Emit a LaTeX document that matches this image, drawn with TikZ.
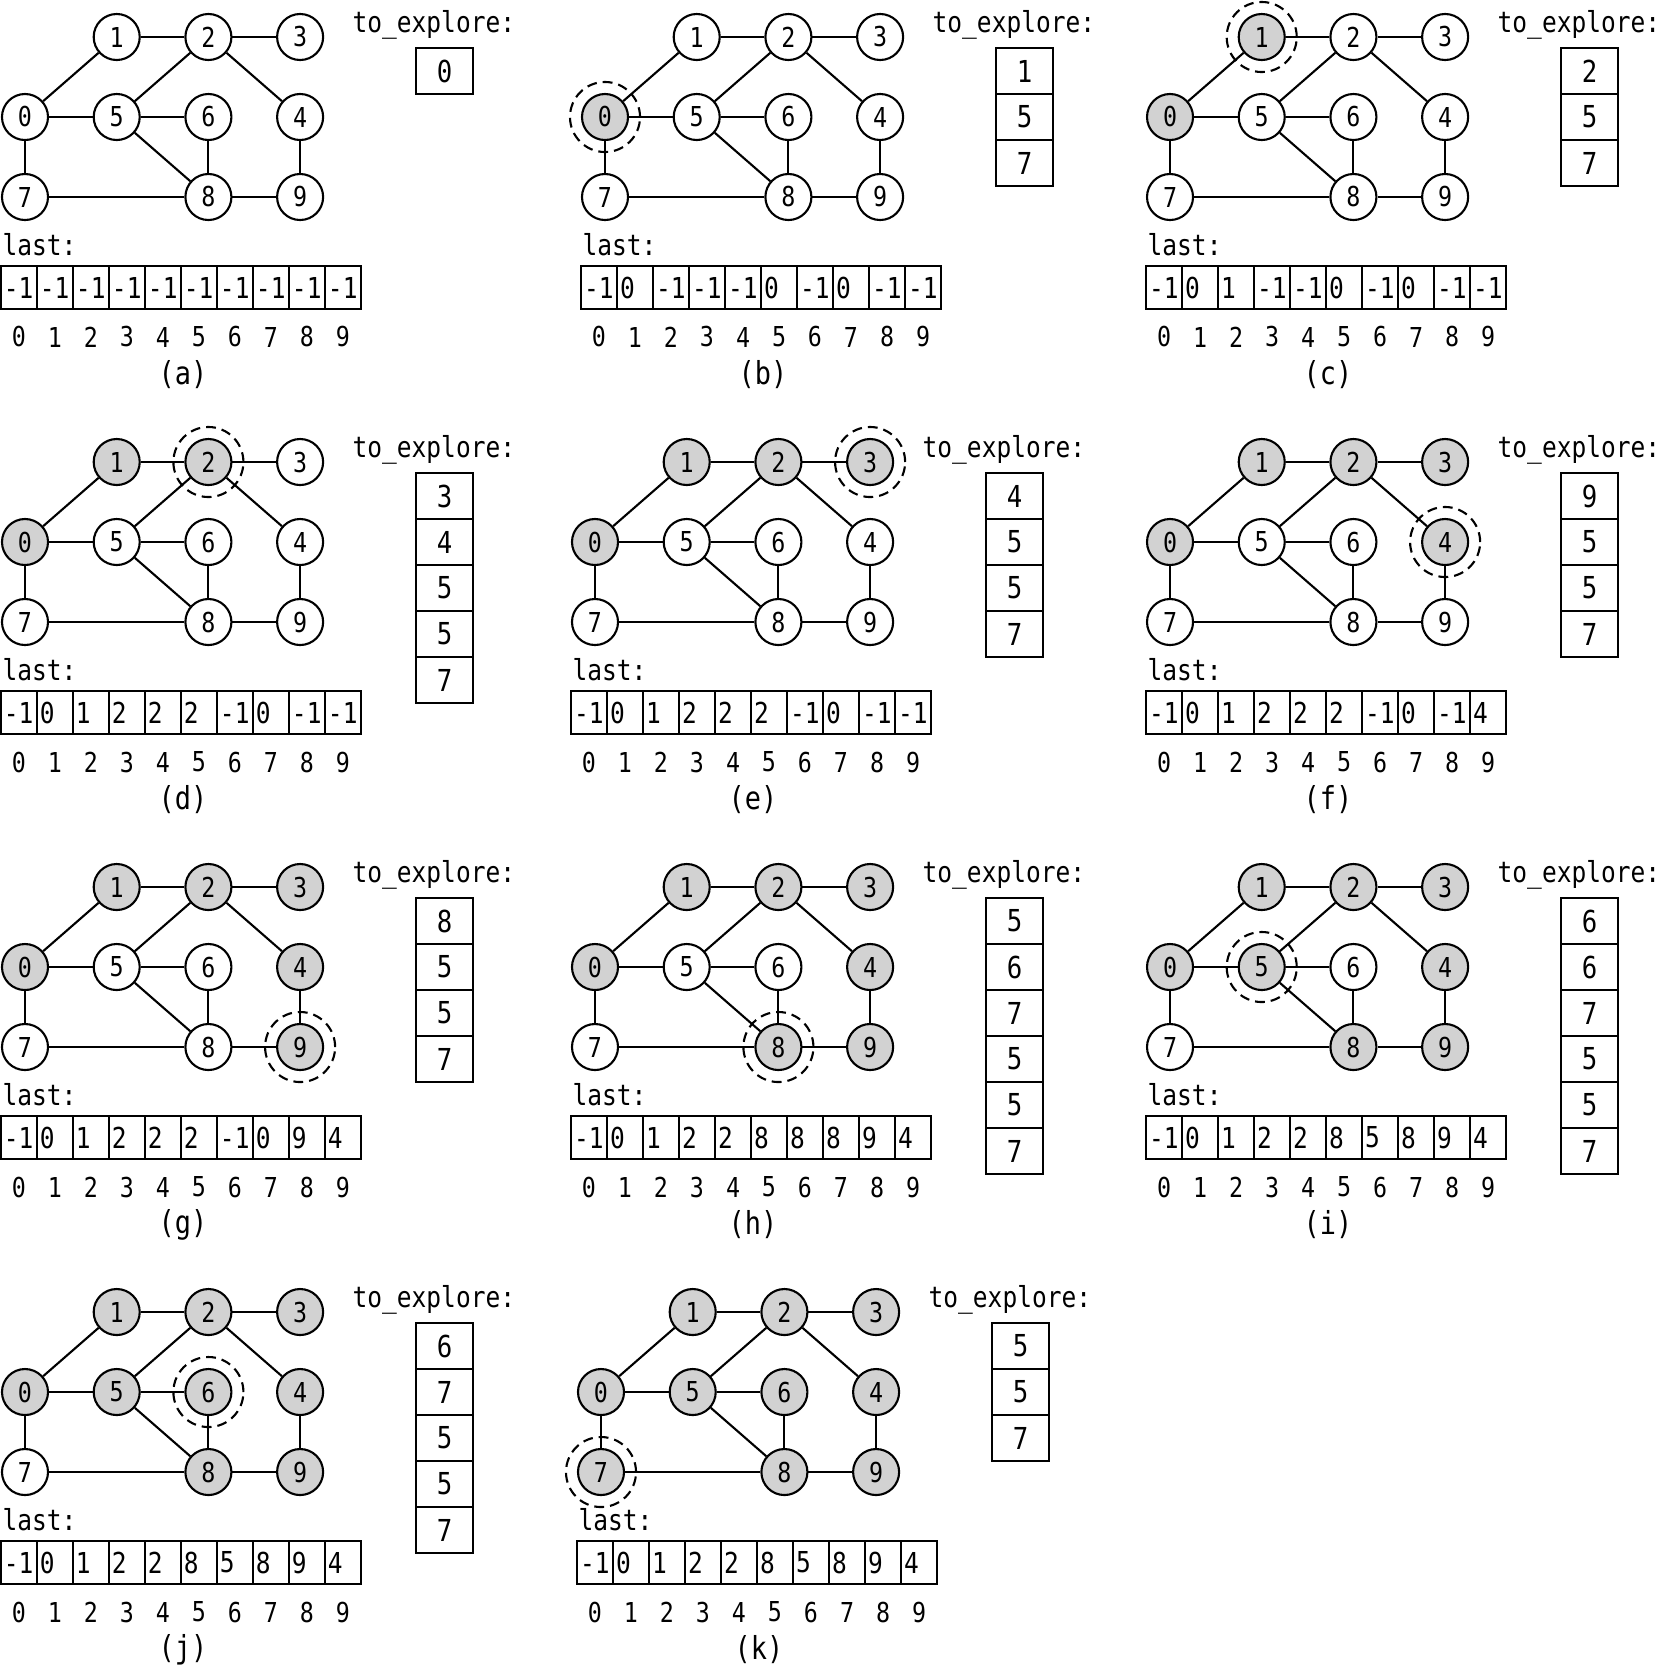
\documentclass[tikz,border=0pt]{standalone}
\usepackage{fontspec}
\newfontfamily\pfont[FakeStretch=0.85]{DejaVu Sans Mono}

\begin{document}
\begin{tikzpicture}[
  x=0.01cm, y=-0.01cm,
  vnode/.style={circle, draw=black, line width=0.6pt, inner sep=0pt, minimum size=4.6mm, font={\pfont\fontsize{7.8pt}{8pt}\selectfont}},
  edge/.style={line width=0.6pt, draw=black},
  ring/.style={circle, draw=black, line width=0.6pt, dash pattern=on 2.8pt off 1.7pt, inner sep=0pt, minimum size=7mm},
  cell/.style={rectangle, draw=black, line width=0.6pt, text width=3.0mm, inner xsep=0.3mm, inner ysep=0pt, minimum height=4.3mm, align=left, font={\pfont\fontsize{8.2pt}{9pt}\selectfont}},
  slot/.style={rectangle, draw=black, line width=0.6pt, minimum width=5.7mm, minimum height=4.6mm, inner sep=0pt, font={\pfont\fontsize{8.6pt}{9pt}\selectfont}},
  idx/.style={inner sep=0pt, font={\pfont\fontsize{7.8pt}{8pt}\selectfont}},
  caption/.style={inner sep=0pt, anchor=base west, font={\pfont\fontsize{8.2pt}{9pt}\selectfont}},
  sub/.style={inner sep=0pt, font={\pfont\fontsize{9pt}{10pt}\selectfont}}
]
  \useasboundingbox (0,0) rectangle (1671,1666);

  % Un panel por paso: nombre/paso/x/y/last/to_explore
  \foreach \id/\p/\px/\py/\last/\stack in {
    a/0/0/0/{-1,-1,-1,-1,-1,-1,-1,-1,-1,-1}/{0},
    b/1/580/0/{-1,0,-1,-1,-1,0,-1,0,-1,-1}/{1,5,7},
    c/2/1145/0/{-1,0,1,-1,-1,0,-1,0,-1,-1}/{2,5,7},
    d/3/0/425/{-1,0,1,2,2,2,-1,0,-1,-1}/{3,4,5,5,7},
    e/4/570/425/{-1,0,1,2,2,2,-1,0,-1,-1}/{4,5,5,7},
    f/5/1145/425/{-1,0,1,2,2,2,-1,0,-1,4}/{9,5,5,7},
    g/6/0/850/{-1,0,1,2,2,2,-1,0,9,4}/{8,5,5,7},
    h/7/570/850/{-1,0,1,2,2,8,8,8,9,4}/{5,6,7,5,5,7},
    i/8/1145/850/{-1,0,1,2,2,8,5,8,9,4}/{6,6,7,5,5,7},
    j/9/0/1275/{-1,0,1,2,2,8,5,8,9,4}/{6,7,5,5,7},
    k/10/576/1275/{-1,0,1,2,2,8,5,8,9,4}/{5,5,7}} {

    % Vértices: nombre/columna/fila/orden de visita
    \foreach \n/\col/\row/\rk in {0/0/1/0, 1/1/0/1, 2/2/0/2, 3/3/0/3, 4/3/1/4,
                                  5/1/1/7, 6/2/1/8, 7/0/2/9, 8/2/2/6, 9/3/2/5} {
      \ifnum\rk<\p\relax \def\nfill{gray!35}\else \def\nfill{white}\fi
      \node[vnode, fill=\nfill] (\id\n) at (\px+25+91.7*\col, \py+37+80*\row) {\n};
      \ifnum\rk=\numexpr\p-1\relax \node[ring] (\id-ring) at (\id\n) {};\fi
    }

    % Aristas
    \foreach \na/\nb in {0/1,1/2,2/3,0/5,5/6,2/5,2/4,5/8,6/8,4/9,0/7,7/8,8/9}
      \draw[edge] (\id\na) -- (\id\nb);

    % Arreglo last
    \node[caption] (\id-lastlbl) at (\px+2, \py+255) {last:};
    \foreach \val [count=\i from 0] in \last {
      \node[cell] (\id-cell\i) at (\px+19+36*\i, \py+287.5) {\mbox{\val}};
      \node[idx] (\id-idx\i) at (\px+19+36*\i, \py+337) {\i};
    }

    % Pila to_explore
    \node[caption] (\id-todo) at (\px+352, \py+32) {to\_explore:};
    \foreach \sv [count=\j from 0] in \stack
      \node[slot] (\id-slot\j) at (\px+444.5, \py+71+46*\j) {\sv};

    % Etiqueta inferior
    \node[sub] (\id-lab) at (\px+183, \py+375) {(\id)};
  }
\end{tikzpicture}
\end{document}
